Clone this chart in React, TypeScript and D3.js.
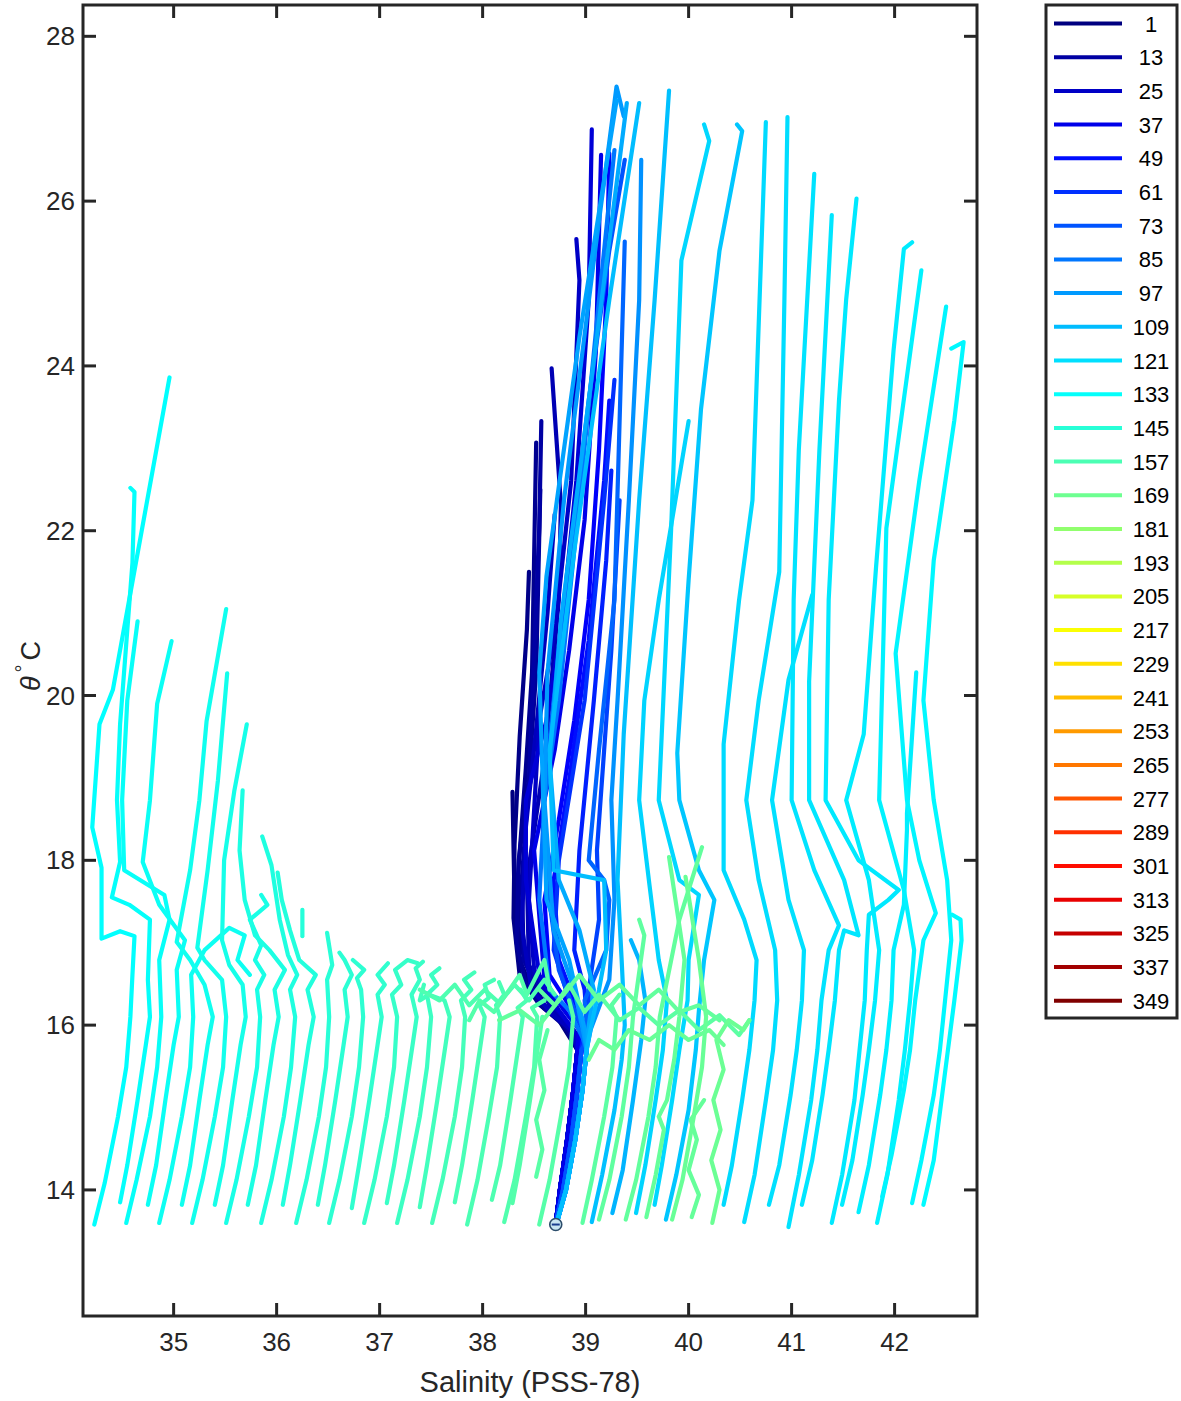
import React from 'react';
import * as d3 from 'd3';

type Pt = [number, number];
type Profile = { id: number; pts: Pt[] };

// profile numbers shown in the legend
const legendIds = [1, 13, 25, 37, 49, 61, 73, 85, 97, 109, 121, 133, 145, 157, 169, 181, 193, 205, 217, 229, 241, 253, 265, 277, 289, 301, 313, 325, 337, 349];

const xTicks = [35, 36, 37, 38, 39, 40, 41, 42];
const yTicks = [14, 16, 18, 20, 22, 24, 26, 28];

// start point of the first profile
const startPoint: Pt = [38.71, 13.58];

// blue profiles, all sharing the same deep end
const clusterProfiles: Profile[] = [
  { id: 1, pts: [[38.71, 13.6], [38.75, 14.0], [38.82, 14.61], [38.88, 15.21], [38.92, 15.7], [38.74, 16.06], [38.5, 16.37], [38.36, 16.79], [38.31, 17.52], [38.29, 18.83]] },
  { id: 4, pts: [[38.71, 13.6], [38.75, 14.0], [38.82, 14.61], [38.88, 15.21], [38.92, 15.7], [38.85, 15.95], [38.55, 16.25], [38.36, 16.6], [38.3, 17.3], [38.31, 18.2], [38.36, 19.5], [38.43, 20.8], [38.45, 21.5]] },
  { id: 7, pts: [[38.71, 13.6], [38.75, 14.0], [38.82, 14.61], [38.88, 15.21], [38.92, 15.7], [38.79, 16.0], [38.55, 16.3], [38.38, 16.91], [38.34, 17.76], [38.42, 19.12], [38.48, 20.28], [38.52, 23.07]] },
  { id: 10, pts: [[38.71, 13.6], [38.75, 14.0], [38.82, 14.61], [38.88, 15.21], [38.92, 15.7], [38.88, 15.9], [38.6, 16.2], [38.42, 16.5], [38.33, 17.0], [38.35, 18.0], [38.45, 19.0], [38.52, 20.3], [38.56, 22.5]] },
  { id: 13, pts: [[38.71, 13.6], [38.75, 14.0], [38.82, 14.61], [38.88, 15.21], [38.92, 15.7], [38.84, 15.94], [38.6, 16.24], [38.4, 16.79], [38.38, 17.76], [38.45, 18.97], [38.55, 22.03], [38.57, 23.33]] },
  { id: 19, pts: [[38.71, 13.6], [38.75, 14.0], [38.82, 14.61], [38.88, 15.21], [38.92, 15.7], [38.86, 15.94], [38.65, 16.24], [38.45, 16.73], [38.43, 17.76], [38.6, 19.22], [38.74, 21.16], [38.76, 22.32], [38.67, 23.97]] },
  { id: 22, pts: [[38.71, 13.6], [38.75, 14.0], [38.82, 14.61], [38.88, 15.21], [38.92, 15.7], [38.9, 15.9], [38.66, 16.15], [38.47, 16.45], [38.38, 17.2], [38.42, 18.4], [38.52, 19.6], [38.63, 21.0], [38.7, 22.2]] },
  { id: 25, pts: [[38.71, 13.6], [38.75, 14.0], [38.82, 14.61], [38.88, 15.21], [38.92, 15.7], [38.88, 15.94], [38.69, 16.24], [38.5, 16.67], [38.45, 17.52], [38.55, 19.7], [38.71, 20.87], [38.86, 22.61], [38.94, 25.04], [38.91, 25.54]] },
  { id: 31, pts: [[38.71, 13.6], [38.75, 14.0], [38.82, 14.61], [38.88, 15.21], [38.92, 15.7], [38.92, 15.88], [38.74, 16.18], [38.55, 16.61], [38.42, 17.76], [38.42, 18.73], [38.62, 19.7], [38.77, 20.87], [38.91, 22.61], [39.03, 24.8], [39.06, 26.87]] },
  { id: 37, pts: [[38.71, 13.6], [38.75, 14.0], [38.82, 14.61], [38.88, 15.21], [38.92, 15.7], [38.94, 15.94], [38.79, 16.18], [38.6, 16.55], [38.5, 18.12], [38.7, 19.34], [38.84, 20.55], [38.99, 22.13], [39.1, 24.19], [39.15, 26.56]] },
  { id: 43, pts: [[38.71, 13.6], [38.78, 14.0], [38.86, 14.61], [38.92, 15.21], [38.96, 15.7], [38.96, 15.94], [38.84, 16.24], [38.65, 16.61], [38.6, 17.52], [38.74, 18.49], [38.89, 19.7], [39.03, 21.16], [39.13, 22.98], [39.2, 24.8], [39.23, 26.58]] },
  { id: 49, pts: [[38.71, 13.6], [38.78, 14.0], [38.86, 14.61], [38.92, 15.21], [38.96, 15.7], [38.99, 16.0], [38.89, 16.3], [38.74, 16.79], [38.69, 17.76], [38.84, 18.97], [39.03, 20.67], [39.18, 22.61], [39.23, 23.58]] },
  { id: 55, pts: [[38.71, 13.6], [38.78, 14.0], [38.86, 14.61], [38.92, 15.21], [38.96, 15.7], [39.02, 15.94], [38.99, 16.43], [38.89, 16.91], [38.94, 18.12], [39.08, 19.94], [39.2, 21.64], [39.25, 22.73]] },
  { id: 61, pts: [[38.71, 13.6], [38.78, 14.0], [38.86, 14.61], [38.92, 15.21], [38.96, 15.7], [38.99, 15.94], [38.84, 16.3], [38.69, 16.91], [38.74, 18.0], [38.99, 19.94], [39.18, 22.37], [39.28, 23.83]] },
  { id: 67, pts: [[38.71, 13.6], [38.78, 14.0], [38.86, 14.61], [38.92, 15.21], [38.96, 15.7], [39.03, 15.88], [39.03, 16.43], [39.13, 17.28], [39.11, 18.12], [39.18, 19.34], [39.25, 20.55], [39.33, 22.37]] },
  { id: 73, pts: [[38.71, 13.6], [38.78, 14.0], [38.86, 14.61], [38.92, 15.21], [38.96, 15.7], [39.02, 15.82], [38.89, 16.18], [38.74, 16.67], [38.62, 17.76], [38.59, 18.73], [38.74, 20.55], [39.03, 23.58], [39.23, 25.4], [39.38, 26.5]] },
  { id: 79, pts: [[38.72, 13.6], [38.81, 14.0], [38.9, 14.61], [38.97, 15.21], [39.01, 15.7], [39.02, 15.9], [38.99, 16.3], [39.2, 16.91], [39.23, 17.52], [39.18, 17.76], [39.03, 18.0], [39.13, 19.34], [39.28, 21.16], [39.38, 25.51]] },
  { id: 85, pts: [[38.72, 13.6], [38.81, 14.0], [38.9, 14.61], [38.97, 15.21], [39.01, 15.7], [38.97, 15.85], [38.84, 16.18], [38.65, 16.43], [38.55, 17.52], [38.6, 18.73], [38.74, 19.94], [38.94, 22.37], [39.13, 24.8], [39.28, 26.62]] },
  { id: 94, pts: [[38.72, 13.6], [38.81, 14.0], [38.9, 14.61], [38.97, 15.21], [39.01, 15.7], [39.05, 15.95], [39.23, 16.55], [39.28, 17.52], [39.25, 18.73], [39.31, 19.94], [39.42, 22.37], [39.52, 24.8], [39.54, 26.5]] },
  { id: 97, pts: [[38.72, 13.6], [38.81, 14.0], [38.9, 14.61], [38.97, 15.21], [39.01, 15.7], [38.98, 15.9], [38.89, 16.43], [38.69, 17.15], [38.6, 18.73], [38.63, 20.28], [38.79, 22.37], [39.08, 25.28], [39.3, 27.39], [39.37, 27.03]] },
  { id: 100, pts: [[38.72, 13.6], [38.81, 14.0], [38.9, 14.61], [38.97, 15.21], [39.01, 15.7], [38.99, 15.95], [38.84, 16.79], [38.62, 17.52], [38.55, 20.28], [38.62, 21.45], [38.94, 24.35], [39.3, 27.22]] },
  { id: 103, pts: [[38.72, 13.6], [38.81, 14.0], [38.9, 14.61], [38.97, 15.21], [39.01, 15.7], [39.02, 15.9], [39.08, 16.43], [38.94, 17.15], [38.74, 17.76], [38.65, 19.22], [38.76, 20.91], [39.03, 23.58], [39.28, 26.01], [39.4, 27.19]] },
  { id: 109, pts: [[38.72, 13.6], [38.81, 14.0], [38.9, 14.61], [38.97, 15.21], [39.01, 15.7], [39.04, 15.9], [39.13, 16.43], [39.2, 16.91], [39.18, 17.76], [38.69, 17.88], [38.65, 19.34], [38.89, 21.76], [39.23, 24.8], [39.52, 27.19]] },
];

// profiles on the right side of the plot
const rightProfiles: Profile[] = [
  { id: 106, pts: [[39.26, 13.72], [39.36, 14.24], [39.46, 15.09], [39.54, 15.82], [39.58, 16.3], [39.52, 16.79], [39.44, 17.03]] },
  { id: 110, pts: [[39.06, 13.61], [39.16, 14.18], [39.28, 14.97], [39.35, 15.58], [39.38, 16.0], [39.35, 16.79], [39.31, 17.76], [39.37, 19.53], [39.52, 22.37], [39.67, 24.8], [39.81, 27.34]] },
  { id: 112, pts: [[39.78, 13.64], [39.88, 14.18], [40.0, 14.97], [40.07, 15.7], [40.1, 16.18], [40.15, 16.79], [40.25, 17.52], [40.1, 17.88], [39.91, 18.73], [39.89, 19.3], [40.0, 21.4], [40.12, 23.47], [40.3, 25.4], [40.52, 26.85], [40.47, 26.93]] },
  { id: 117, pts: [[39.49, 13.72], [39.58, 14.3], [39.68, 15.09], [39.75, 15.7], [39.79, 16.3], [39.71, 16.79], [39.62, 17.7], [39.52, 18.73], [39.57, 19.94], [39.71, 21.16], [40.0, 23.33]] },
  { id: 118, pts: [[39.67, 13.82], [39.74, 14.3], [39.84, 15.09], [39.91, 15.7], [39.99, 16.3], [40.0, 16.79], [40.1, 17.58], [39.91, 17.76], [39.71, 18.73], [39.83, 22.01], [39.93, 25.28], [40.2, 26.73], [40.15, 26.93]] },
  { id: 119, pts: [[40.34, 13.82], [40.42, 14.3], [40.52, 15.09], [40.59, 15.7], [40.64, 16.3], [40.66, 16.79], [40.54, 17.28], [40.34, 17.88], [40.34, 18.73], [40.34, 19.41], [40.49, 21.16], [40.62, 22.37], [40.75, 26.96]] },
  { id: 120, pts: [[40.54, 13.61], [40.64, 14.18], [40.75, 15.09], [40.82, 15.7], [40.86, 16.3], [40.84, 16.91], [40.68, 17.76], [40.56, 18.73], [40.68, 19.94], [40.88, 21.5], [40.93, 24.8], [40.96, 27.02]] },
  { id: 121, pts: [[40.78, 13.82], [40.88, 14.3], [40.99, 15.15], [41.05, 15.7], [41.1, 16.3], [41.12, 16.91], [40.97, 17.52], [40.81, 18.73], [40.97, 20.19], [41.2, 21.22]] },
  { id: 122, pts: [[40.97, 13.55], [41.07, 14.18], [41.19, 15.09], [41.25, 15.7], [41.29, 16.3], [41.36, 16.91], [41.46, 17.21], [41.22, 17.88], [41.0, 18.73], [41.02, 21.16], [41.07, 22.98], [41.22, 26.33]] },
  { id: 123, pts: [[41.1, 13.82], [41.2, 14.36], [41.3, 15.15], [41.36, 15.7], [41.42, 16.3], [41.46, 16.91], [41.51, 17.15], [41.65, 17.09], [41.51, 17.76], [41.17, 18.73], [41.17, 20.17], [41.27, 22.98], [41.39, 25.83]] },
  { id: 124, pts: [[41.39, 13.6], [41.49, 14.18], [41.61, 15.09], [41.66, 15.7], [41.71, 16.3], [41.73, 16.91], [41.75, 17.34], [41.94, 17.52], [42.04, 17.64], [41.65, 18.0], [41.33, 18.73], [41.36, 21.16], [41.46, 23.58], [41.53, 24.81], [41.63, 26.03]] },
  { id: 125, pts: [[41.49, 13.82], [41.59, 14.36], [41.69, 15.15], [41.75, 15.7], [41.81, 16.3], [41.85, 16.91], [41.75, 17.76], [41.53, 18.73], [41.7, 19.53], [41.82, 21.56], [41.99, 24.19], [42.09, 25.42], [42.17, 25.5]] },
  { id: 126, pts: [[41.65, 13.73], [41.75, 14.3], [41.86, 15.15], [41.92, 15.7], [41.97, 16.3], [41.99, 16.91], [42.09, 17.46], [42.12, 18.37], [42.12, 18.57], [42.21, 20.28]] },
  { id: 127, pts: [[41.83, 13.6], [41.93, 14.18], [42.04, 15.09], [42.1, 15.7], [42.15, 16.3], [42.19, 16.91], [42.09, 17.64], [41.85, 18.73], [41.92, 22.03], [42.26, 25.16]] },
  { id: 128, pts: [[41.88, 13.92], [41.97, 14.42], [42.09, 15.21], [42.15, 15.7], [42.2, 16.3], [42.28, 17.03], [42.4, 17.36], [42.24, 18.0], [42.12, 18.73], [42.01, 20.51], [42.24, 22.61], [42.5, 24.72]] },
  { id: 129, pts: [[42.17, 13.84], [42.26, 14.36], [42.38, 15.15], [42.44, 15.7], [42.49, 16.3], [42.55, 17.03], [42.51, 17.76], [42.38, 18.73], [42.28, 19.94], [42.38, 21.64], [42.58, 23.34], [42.67, 24.29], [42.55, 24.21]] },
  { id: 130, pts: [[42.28, 13.82], [42.38, 14.36], [42.48, 15.33], [42.58, 16.3], [42.65, 17.03], [42.64, 17.28], [42.56, 17.34]] },
];

// profiles on the left side of the plot
const leftProfiles: Profile[] = [
  { id: 132, pts: [[34.23, 13.58], [34.33, 14.08], [34.46, 14.89], [34.54, 15.49], [34.58, 16.1], [34.6, 16.61], [34.62, 17.08], [34.48, 17.14], [34.3, 17.05], [34.3, 17.91], [34.21, 18.4], [34.28, 19.65], [34.41, 20.07], [34.96, 23.86]] },
  { id: 133, pts: [[34.48, 13.85], [34.55, 14.3], [34.65, 15.09], [34.73, 15.76], [34.77, 16.1], [34.75, 16.55], [34.77, 17.28], [34.57, 17.46], [34.4, 17.55], [34.48, 17.98], [34.45, 18.73], [34.48, 19.65], [34.6, 21.61], [34.62, 22.47], [34.58, 22.52]] },
  { id: 134, pts: [[34.54, 13.6], [34.64, 14.12], [34.77, 14.89], [34.84, 15.49], [34.88, 16.1], [34.86, 16.79], [34.96, 17.28], [34.91, 17.58], [34.52, 17.88], [34.5, 18.73], [34.55, 19.94], [34.65, 20.9]] },
  { id: 135, pts: [[34.75, 13.82], [34.83, 14.3], [34.92, 15.09], [35.0, 15.76], [35.05, 16.1], [35.03, 16.67], [35.11, 17.03], [34.86, 17.46], [34.7, 17.98], [34.77, 18.73], [34.84, 19.9], [34.98, 20.66]] },
  { id: 136, pts: [[34.86, 13.6], [34.96, 14.12], [35.08, 14.89], [35.16, 15.49], [35.19, 16.1], [35.17, 16.61], [35.3, 16.91], [35.54, 17.18], [35.69, 17.09], [35.62, 16.79], [35.74, 16.61]] },
  { id: 137, pts: [[35.08, 13.82], [35.16, 14.3], [35.25, 15.09], [35.33, 15.76], [35.38, 16.1], [35.3, 16.49], [35.16, 16.79], [35.03, 17.01], [35.16, 17.88], [35.25, 18.73], [35.32, 19.69], [35.51, 21.05]] },
  { id: 138, pts: [[35.18, 13.6], [35.28, 14.12], [35.4, 14.89], [35.48, 15.49], [35.51, 16.1], [35.47, 16.55], [35.3, 16.79], [35.23, 16.94], [35.33, 17.88], [35.43, 18.97], [35.52, 20.27]] },
  { id: 139, pts: [[35.4, 13.82], [35.48, 14.3], [35.57, 15.09], [35.65, 15.76], [35.7, 16.1], [35.67, 16.49], [35.54, 16.73], [35.47, 17.03], [35.49, 18.0], [35.59, 18.85], [35.71, 19.65]] },
  { id: 140, pts: [[35.51, 13.6], [35.61, 14.12], [35.73, 14.89], [35.81, 15.49], [35.84, 16.1], [35.81, 16.43], [35.88, 16.61], [35.79, 16.79], [35.85, 16.97], [35.74, 17.28], [35.91, 17.46], [35.85, 17.58]] },
  { id: 141, pts: [[35.72, 13.82], [35.8, 14.3], [35.89, 15.09], [35.97, 15.76], [36.02, 16.1], [35.98, 16.43], [36.08, 16.67], [35.93, 16.91], [35.79, 17.09], [35.69, 17.52], [35.64, 18.12], [35.67, 18.85]] },
  { id: 142, pts: [[35.85, 13.6], [35.95, 14.12], [36.07, 14.89], [36.14, 15.49], [36.18, 16.1], [36.13, 16.43], [36.2, 16.61], [36.11, 16.85], [36.03, 17.28], [35.95, 17.94], [35.86, 18.29]] },
  { id: 143, pts: [[36.06, 13.82], [36.13, 14.3], [36.23, 15.09], [36.31, 15.76], [36.36, 16.1], [36.3, 16.43], [36.38, 16.61], [36.22, 16.79], [36.13, 17.15], [36.05, 17.52], [36.01, 17.85]] },
  { id: 144, pts: [[36.25, 17.4], [36.25, 17.08]] },
  { id: 145, pts: [[36.19, 13.6], [36.29, 14.12], [36.41, 14.89], [36.48, 15.49], [36.51, 16.1], [36.49, 16.55], [36.54, 16.73], [36.49, 17.12]] },
  { id: 146, pts: [[36.4, 13.82], [36.47, 14.3], [36.57, 15.09], [36.65, 15.76], [36.69, 16.1], [36.66, 16.43], [36.73, 16.61], [36.66, 16.79], [36.61, 16.88]] },
  { id: 147, pts: [[36.51, 13.6], [36.61, 14.12], [36.73, 14.89], [36.8, 15.49], [36.84, 16.1], [36.82, 16.43], [36.78, 16.57], [36.85, 16.67], [36.74, 16.79]] },
  { id: 148, pts: [[36.73, 13.78], [36.8, 14.3], [36.9, 15.09], [36.98, 15.76], [37.02, 16.1], [36.98, 16.37], [37.05, 16.49], [36.98, 16.61], [37.08, 16.75]] },
  { id: 150, pts: [[36.85, 13.6], [36.95, 14.12], [37.07, 14.89], [37.14, 15.49], [37.17, 16.1], [37.12, 16.37], [37.21, 16.49], [37.15, 16.67], [37.27, 16.79], [37.37, 16.75]] },
  { id: 151, pts: [[37.07, 13.84], [37.14, 14.3], [37.24, 15.09], [37.32, 15.76], [37.36, 16.1], [37.31, 16.37], [37.39, 16.55], [37.35, 16.69], [37.42, 16.77]] },
  { id: 152, pts: [[37.17, 13.6], [37.27, 14.12], [37.39, 14.89], [37.46, 15.49], [37.5, 16.1], [37.46, 16.37], [37.56, 16.49], [37.5, 16.61], [37.58, 16.69]] },
  { id: 154, pts: [[37.39, 13.79], [37.46, 14.3], [37.56, 15.09], [37.64, 15.76], [37.68, 16.1], [37.63, 16.3], [37.48, 16.37], [37.39, 16.3], [37.43, 16.49]] },
  { id: 155, pts: [[37.51, 13.6], [37.61, 14.12], [37.73, 14.89], [37.8, 15.49], [37.83, 16.1], [37.79, 16.3], [37.89, 16.43], [37.82, 16.55], [37.92, 16.64]] },
  { id: 156, pts: [[37.73, 13.85], [37.8, 14.3], [37.9, 15.09], [37.98, 15.76], [38.02, 16.1], [37.97, 16.24], [38.06, 16.33], [38.02, 16.49], [38.11, 16.55]] },
  { id: 157, pts: [[37.85, 13.58], [37.95, 14.12], [38.06, 14.89], [38.14, 15.49], [38.17, 16.1], [38.13, 16.24], [38.21, 16.37], [38.16, 16.52]] },
  { id: 158, pts: [[38.09, 13.88], [38.17, 14.3], [38.27, 15.09], [38.35, 15.76], [38.39, 16.1], [38.34, 16.21], [38.43, 16.3], [38.37, 16.43]] },
  { id: 159, pts: [[38.21, 13.61], [38.31, 14.12], [38.42, 14.89], [38.5, 15.49], [38.53, 16.1], [38.48, 16.21], [38.6, 16.3]] },
  { id: 160, pts: [[38.29, 13.84], [38.36, 14.3], [38.46, 15.09], [38.54, 15.76], [38.58, 16.1]] },
  { id: 161, pts: [[38.55, 13.58], [38.65, 14.12], [38.76, 14.89], [38.84, 15.49], [38.88, 16.1], [38.84, 16.3]] },
];

// green profiles in the middle, noisy near 16 degrees
const greenProfiles: Profile[] = [
  { id: 158, pts: [[37.39, 16.43], [37.58, 16.3], [37.73, 16.49], [37.87, 16.24], [38.02, 16.43], [38.16, 16.27], [38.31, 16.49], [38.45, 16.3], [38.6, 16.55], [38.7, 16.37]] },
  { id: 160, pts: [[37.87, 16.06], [37.97, 16.3], [38.11, 16.16], [38.26, 16.43], [38.36, 16.61], [38.43, 16.37], [38.6, 16.79], [38.65, 16.43]] },
  { id: 162, pts: [[38.52, 14.16], [38.58, 14.49], [38.52, 14.85], [38.6, 15.21], [38.55, 15.58], [38.63, 15.94]] },
  { id: 163, pts: [[38.97, 13.6], [39.06, 14.12], [39.18, 14.89], [39.26, 15.49], [39.3, 16.1], [39.25, 16.24], [39.33, 16.37]] },
  { id: 163, pts: [[38.55, 16.43], [38.7, 16.24], [38.84, 16.49], [38.99, 16.16], [39.13, 16.37], [39.33, 16.06], [39.52, 16.21], [39.71, 16.0], [39.91, 16.18], [40.1, 15.94], [40.3, 16.12], [40.49, 15.88], [40.59, 16.06]] },
  { id: 164, pts: [[39.13, 13.64], [39.23, 14.12], [39.35, 14.89], [39.42, 15.49], [39.46, 16.1], [39.57, 17.09], [39.52, 17.28]] },
  { id: 165, pts: [[38.16, 16.06], [38.36, 16.18], [38.55, 16.0], [38.74, 16.3], [38.94, 16.61], [39.13, 16.3], [39.33, 16.49], [39.52, 16.24], [39.71, 16.43], [39.91, 16.16], [40.1, 16.24], [40.3, 16.06]] },
  { id: 165, pts: [[39.39, 13.64], [39.49, 14.12], [39.61, 14.89], [39.68, 15.49], [39.72, 16.1], [39.91, 17.28], [40.13, 18.16]] },
  { id: 166, pts: [[39.59, 13.67], [39.68, 14.18], [39.76, 14.73], [39.71, 14.89], [39.79, 15.09], [39.86, 15.58], [39.91, 16.1], [39.96, 16.79], [39.81, 18.04]] },
  { id: 166, pts: [[40.03, 13.67], [40.1, 13.94], [40.0, 14.24], [40.08, 14.61], [40.02, 14.85], [40.15, 15.09]] },
  { id: 167, pts: [[39.84, 13.64], [39.94, 14.12], [40.05, 14.89], [40.13, 15.49], [40.17, 16.1], [40.1, 16.79], [39.97, 17.8]] },
  { id: 167, pts: [[39.03, 15.58], [39.13, 15.82], [39.28, 15.7], [39.42, 15.94], [39.62, 15.82], [39.81, 16.0], [40.0, 15.82], [40.2, 15.94], [40.34, 15.76]] },
  { id: 168, pts: [[40.23, 13.6], [40.3, 14.0], [40.22, 14.36], [40.31, 14.73], [40.24, 15.09], [40.34, 15.46], [40.27, 15.82], [40.39, 16.06], [40.53, 15.94], [40.59, 16.06]] },
];

const W = 1181;
const H = 1401;
const plot = { left: 83, right: 977, top: 5, bottom: 1316 };
const ink = '#262626';
const font = '"Liberation Sans", Arial, Helvetica, sans-serif';

const x = d3.scaleLinear().domain([34.12, 42.8]).range([plot.left, plot.right]);
const y = d3.scaleLinear().domain([12.47, 28.38]).range([plot.bottom, plot.top]);

// matlab jet colormap
const jet = (t: number) => {
  const c = (v: number) => Math.round(255 * Math.max(0, Math.min(1, v)));
  const r = c(Math.min(4 * t - 1.5, -4 * t + 4.5));
  const g = c(Math.min(4 * t - 0.5, -4 * t + 3.5));
  const b = c(Math.min(4 * t + 0.5, -4 * t + 2.5));
  return `rgb(${r},${g},${b})`;
};
const colorOf = (id: number) => jet((id - 1) / 348);

const line = d3
  .line<Pt>()
  .x(d => x(d[0]))
  .y(d => y(d[1]));

export default function App() {
  const profiles = [...clusterProfiles, ...rightProfiles, ...leftProfiles, ...greenProfiles]
    .map((p, i) => ({ ...p, order: i }))
    .sort((a, b) => a.id - b.id || a.order - b.order);

  const tickLen = 13;
  const legend = { left: 1046, right: 1177, top: 5, bottom: 1018, first: 23.5, step: 33.7 };

  return (
    <svg width={W} height={H} style={{ position: 'absolute', left: 0, top: 0, background: '#fff' }}>
      <defs>
        <clipPath id="plotClip">
          <rect x={plot.left} y={plot.top} width={plot.right - plot.left} height={plot.bottom - plot.top} />
        </clipPath>
      </defs>
      <rect width={W} height={H} fill="#fff" />

      <g clipPath="url(#plotClip)">
        {profiles.map((p, i) => (
          <path
            key={i}
            d={line(p.pts) || ''}
            fill="none"
            stroke={colorOf(p.id)}
            strokeWidth={4.2}
            strokeLinejoin="round"
            strokeLinecap="round"
          />
        ))}
        <circle cx={x(startPoint[0])} cy={y(startPoint[1])} r={6} fill="#c8e6f2" stroke="#2c4d6b" strokeWidth={1.6} />
        <line x1={x(startPoint[0]) - 4} x2={x(startPoint[0]) + 4} y1={y(startPoint[1])} y2={y(startPoint[1])} stroke="#1a3f8f" strokeWidth={2} />
      </g>

      {/* ticks */}
      {xTicks.map(t => (
        <g key={'x' + t}>
          <line x1={x(t)} x2={x(t)} y1={plot.bottom} y2={plot.bottom - tickLen} stroke={ink} strokeWidth={3} />
          <line x1={x(t)} x2={x(t)} y1={plot.top} y2={plot.top + tickLen} stroke={ink} strokeWidth={3} />
          <text x={x(t)} y={plot.bottom + 35} textAnchor="middle" fontFamily={font} fontSize={26} fill={ink}>
            {t}
          </text>
        </g>
      ))}
      {yTicks.map(t => (
        <g key={'y' + t}>
          <line x1={plot.left} x2={plot.left + tickLen} y1={y(t)} y2={y(t)} stroke={ink} strokeWidth={3} />
          <line x1={plot.right} x2={plot.right - tickLen} y1={y(t)} y2={y(t)} stroke={ink} strokeWidth={3} />
          <text x={plot.left - 8} y={y(t) + 9} textAnchor="end" fontFamily={font} fontSize={26} fill={ink}>
            {t}
          </text>
        </g>
      ))}

      <rect
        x={plot.left}
        y={plot.top}
        width={plot.right - plot.left}
        height={plot.bottom - plot.top}
        fill="none"
        stroke={ink}
        strokeWidth={3}
      />

      <text x={(plot.left + plot.right) / 2} y={1392} textAnchor="middle" fontFamily={font} fontSize={29} fill={ink}>
        Salinity (PSS-78)
      </text>
      <text transform="translate(40,666) rotate(-90)" textAnchor="middle" fontFamily={font} fontSize={27} fill={ink}>
        <tspan fontStyle="italic">θ</tspan>
        <tspan dx={4} dy={-10} fontSize={20}>°</tspan>
        <tspan dx={4} dy={10}>C</tspan>
      </text>

      {/* legend */}
      <rect
        x={legend.left}
        y={legend.top}
        width={legend.right - legend.left}
        height={legend.bottom - legend.top}
        fill="#fff"
        stroke={ink}
        strokeWidth={3}
      />
      {legendIds.map((id, i) => {
        const ly = legend.first + i * legend.step;
        return (
          <g key={id}>
            <line x1={1054} x2={1122} y1={ly} y2={ly} stroke={colorOf(id)} strokeWidth={4} />
            <text x={1151} y={ly + 8} textAnchor="middle" fontFamily={font} fontSize={22} fill="#000">
              {id}
            </text>
          </g>
        );
      })}
    </svg>
  );
}
